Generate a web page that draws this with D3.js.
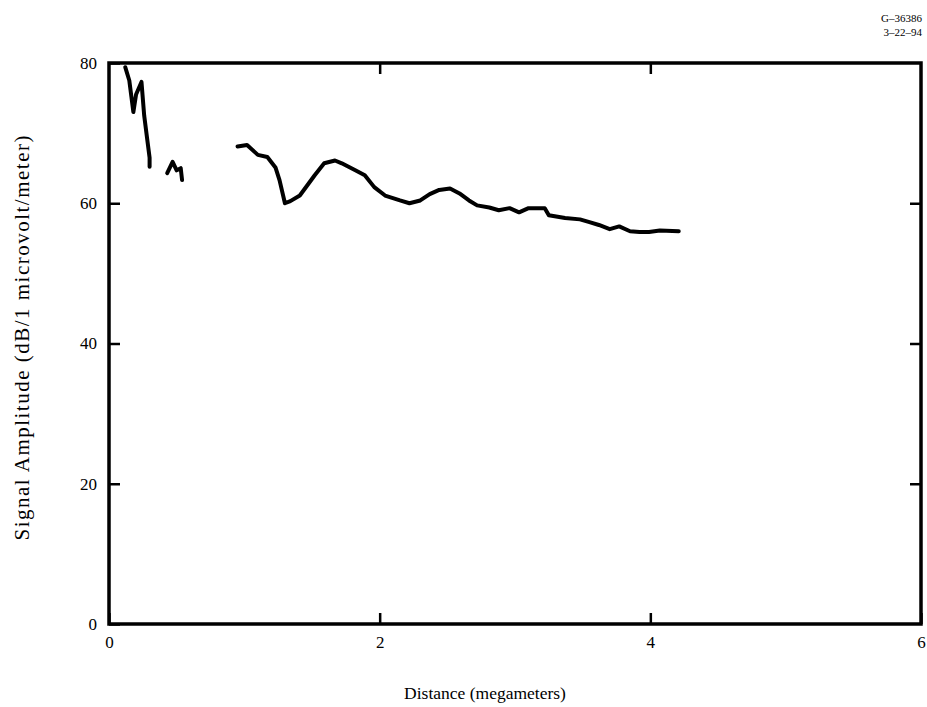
<!DOCTYPE html>
<html>
<head>
<meta charset="utf-8">
<script src="https://cdn.jsdelivr.net/npm/d3@7"></script>
<style>
  body { margin: 0; background: #fff; }
  svg { display: block; }
  text { font-family: "Liberation Serif", "DejaVu Serif", serif; fill: #000; }
</style>
</head>
<body>
<svg id="chart" width="927" height="707"></svg>
<script>
// traced curve, three separate pieces (distance in Mm, amplitude in dB)
const seg1_x = [0.12, 0.15, 0.18, 0.20, 0.24, 0.26, 0.28, 0.30, 0.30],
      seg1_y = [79.4, 77.5, 73.0, 75.5, 77.3, 72.5, 69.5, 66.5, 65.2];
const seg2_x = [0.43, 0.47, 0.50, 0.53, 0.54],
      seg2_y = [64.3, 65.9, 64.7, 65.0, 63.3];
const seg3_x = [0.95, 1.02, 1.10, 1.17, 1.23, 1.26, 1.30, 1.34, 1.41, 1.52, 1.59, 1.67, 1.72, 1.82, 1.89, 1.96,
                2.04, 2.15, 2.22, 2.30, 2.37, 2.44, 2.52, 2.59, 2.66, 2.72, 2.81, 2.88, 2.96, 3.03, 3.10, 3.22,
                3.25, 3.37, 3.48, 3.55, 3.62, 3.70, 3.77, 3.85, 3.92, 3.99, 4.07, 4.21],
      seg3_y = [68.1, 68.3, 66.9, 66.6, 65.1, 63.3, 60.0, 60.3, 61.1, 64.0, 65.7, 66.1, 65.7, 64.7, 64.0, 62.3,
                61.1, 60.4, 60.0, 60.4, 61.3, 61.9, 62.1, 61.4, 60.4, 59.7, 59.4, 59.0, 59.3, 58.7, 59.3, 59.3,
                58.3, 57.9, 57.7, 57.3, 56.9, 56.3, 56.7, 56.0, 55.9, 55.9, 56.1, 56.0];
const xTicks = [0, 2, 4, 6],
      yTicks = [0, 20, 40, 60, 80];

var svg = d3.select("#chart"),
    margin = {top: 63, left: 109, right: 6, bottom: 83},
    width = 927 - margin.left - margin.right,
    height = 707 - margin.top - margin.bottom;

var x = d3.scaleLinear().domain([0, 6]).range([0, width]),
    y = d3.scaleLinear().domain([0, 80]).range([height, 0]);

var g = svg.append("g")
    .attr("transform", "translate(" + margin.left + "," + margin.top + ")");

function styleAxis(sel) {
    sel.select(".domain").remove();
    sel.selectAll("line").attr("stroke", "#000").attr("stroke-width", 2.5);
    sel.selectAll("text").style("font-size", "17px").attr("fill", "#000");
}

g.append("g")
    .attr("transform", "translate(0," + height + ")")
    .call(d3.axisBottom(x).tickValues(xTicks).tickSize(-11).tickPadding(12).tickFormat(d3.format("d")))
    .call(styleAxis);

g.append("g")
    .call(d3.axisTop(x).tickValues(xTicks.slice(1, -1)).tickSize(-11).tickFormat(""))
    .call(styleAxis);

g.append("g")
    .call(d3.axisLeft(y).tickValues(yTicks).tickSize(-11).tickPadding(12).tickFormat(d3.format("d")))
    .call(styleAxis);

g.append("g")
    .attr("transform", "translate(" + width + ",0)")
    .call(d3.axisRight(y).tickValues(yTicks.slice(1, -1)).tickSize(-11).tickFormat(""))
    .call(styleAxis);

// frame
g.append("rect")
    .attr("width", width)
    .attr("height", height)
    .attr("fill", "none")
    .attr("stroke", "#000")
    .attr("stroke-width", 3.5);

var line = d3.line()
    .x(function(d) { return x(d[0]); })
    .y(function(d) { return y(d[1]); });

[[seg1_x, seg1_y], [seg2_x, seg2_y], [seg3_x, seg3_y]].forEach(function(s) {
    g.append("path")
        .datum(d3.zip(s[0], s[1]))
        .attr("d", line)
        .attr("fill", "none")
        .attr("stroke", "#000")
        .attr("stroke-width", 4)
        .attr("stroke-linejoin", "round")
        .attr("stroke-linecap", "round");
});

svg.append("text")
    .attr("x", 485)
    .attr("y", 699)
    .attr("text-anchor", "middle")
    .style("font-size", "17.5px")
    .text("Distance (megameters)");

svg.append("text")
    .attr("transform", "translate(29,338) rotate(-90)")
    .attr("text-anchor", "middle")
    .attr("textLength", 405)
    .attr("lengthAdjust", "spacing")
    .style("font-size", "21px")
    .text("Signal Amplitude (dB/1 microvolt/meter)");

svg.append("text")
    .attr("x", 922).attr("y", 22)
    .attr("text-anchor", "end")
    .style("font-size", "11px")
    .text("G\u201336386");
svg.append("text")
    .attr("x", 922).attr("y", 36)
    .attr("text-anchor", "end")
    .style("font-size", "11px")
    .text("3\u201322\u201394");
</script>
</body>
</html>
